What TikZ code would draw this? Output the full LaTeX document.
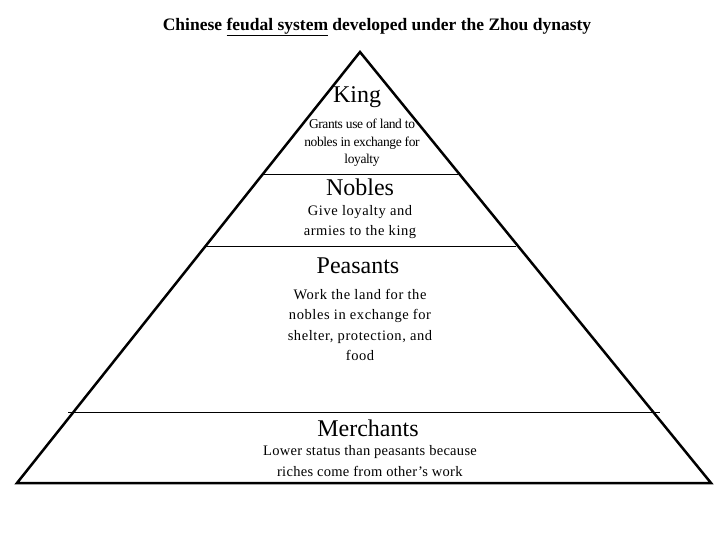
\documentclass[tikz,border=0pt]{standalone}
\usepackage{fontspec}
\setmainfont{Liberation Serif}
\begin{document}
\begin{tikzpicture}[x=1pt,y=-1pt,
  head/.style={font=\fontsize{24}{26}\selectfont, inner sep=0pt},
  body/.style={font=\fontsize{14.5}{20.5}\selectfont\addfontfeature{LetterSpace=4}, align=center, inner sep=0pt},
  tier/.style={line width=0.6pt}]
\useasboundingbox (0,0) rectangle (720,540);
\coordinate (apex) at (360,52);
\coordinate (bl) at (17,483);
\coordinate (br) at (711,483);
\draw[line width=2.5pt, line join=miter] (apex) -- (bl) -- (br) -- cycle;
\coordinate (l1a) at (262,174); \coordinate (l1b) at (458,174);
\coordinate (l2a) at (204,246); \coordinate (l2b) at (516,246);
\coordinate (l3a) at (68,412); \coordinate (l3b) at (660,412);
\draw[tier] (l1a) -- (l1b);
\draw[tier] (l2a) -- (l2b);
\draw[tier] (l3a) -- (l3b);
\node[font=\bfseries\fontsize{17.5}{19}\selectfont, inner sep=0pt] (title) at (377,27) {Chinese \underline{feudal system} developed under the Zhou dynasty};
\node[head] (king) at (357,97) {King};
\node[align=center, inner sep=0pt, font=\fontsize{13.5}{17.5}\selectfont\addfontfeature{LetterSpace=-3}] (kingt) at (362,143) {Grants use of land to\\nobles in exchange for\\loyalty};
\node[head] (nobles) at (360,187) {Nobles};
\node[body] (noblest) at (360,222) {Give loyalty and\\armies to the king};
\node[head] (peas) at (358,266) {Peasants};
\node[body] (peast) at (360,325) {Work the land for the\\nobles in exchange for\\shelter, protection, and\\food};
\node[head] (merch) at (368,428) {Merchants};
\node[body, align=left, font=\fontsize{14.5}{20.5}\selectfont\addfontfeature{LetterSpace=2}] (mercht) at (370,461) {Lower status than peasants because\\\hspace{14pt}riches come from other’s work};
\end{tikzpicture}
\end{document}
